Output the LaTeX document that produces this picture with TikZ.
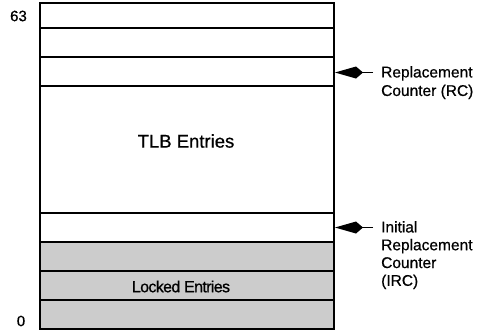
\documentclass[tikz,border=0pt]{standalone}
\usepackage{fontspec}
\setmainfont{Liberation Sans}
\usetikzlibrary{arrows.meta}
\begin{document}
\begin{tikzpicture}[x=1pt,y=-1pt,
  rowline/.style={line width=2.2pt},
  lockfill/.style={fill=black!20},
  pointer/.style={line width=1.6pt,-{Kite[length=28pt,width=12pt,inset=7pt]}},
  lbl/.style={inner sep=0pt,font=\fontsize{15.5}{18.5}\selectfont\addfontfeature{FakeBold=0.6},align=left,anchor=north west},
  big/.style={inner sep=0pt,font=\fontsize{18.5}{22}\selectfont\addfontfeature{FakeBold=0.6}},
  num/.style={inner sep=0pt,font=\fontsize{15}{18}\selectfont\addfontfeature{FakeBold=0.6}}]
\useasboundingbox (0,0) rectangle (477,335);
% locked region fill
\fill[lockfill] (40,242) rectangle (334,329);
% row separators
\foreach \yy in {28,57,86,213,242,271,300}
  \draw[rowline] (40,\yy) -- (334,\yy);
% outer frame
\draw[line width=2.8pt] (40,3) rectangle (334,329);
% named points on the right edge
\coordinate (rcTip) at (335,72.5);
\coordinate (rcTail) at (373,72.5);
\coordinate (ircTip) at (335,227.5);
\coordinate (ircTail) at (373,227.5);
\draw[pointer] (rcTail) -- (rcTip);
\draw[pointer] (ircTail) -- (ircTip);
% labels
\node[num] (n63) at (18.5,16) {63};
\node[num] (n0) at (21,321) {0};
\node[big] (tlb) at (186,141) {TLB Entries};
\node[inner sep=0pt,font=\fontsize{16}{19}\selectfont\addfontfeature{LetterSpace=-4,FakeBold=0.8}] (locked) at (181,286.5) {Locked Entries};
\node[lbl] (rc) at (381,66) {Replacement\\Counter (RC)};
\node[lbl,font=\fontsize{15.5}{17.8}\selectfont\addfontfeature{FakeBold=0.6}] (irc) at (381,221) {Initial\\Replacement\\Counter\\(IRC)};
\end{tikzpicture}
\end{document}
